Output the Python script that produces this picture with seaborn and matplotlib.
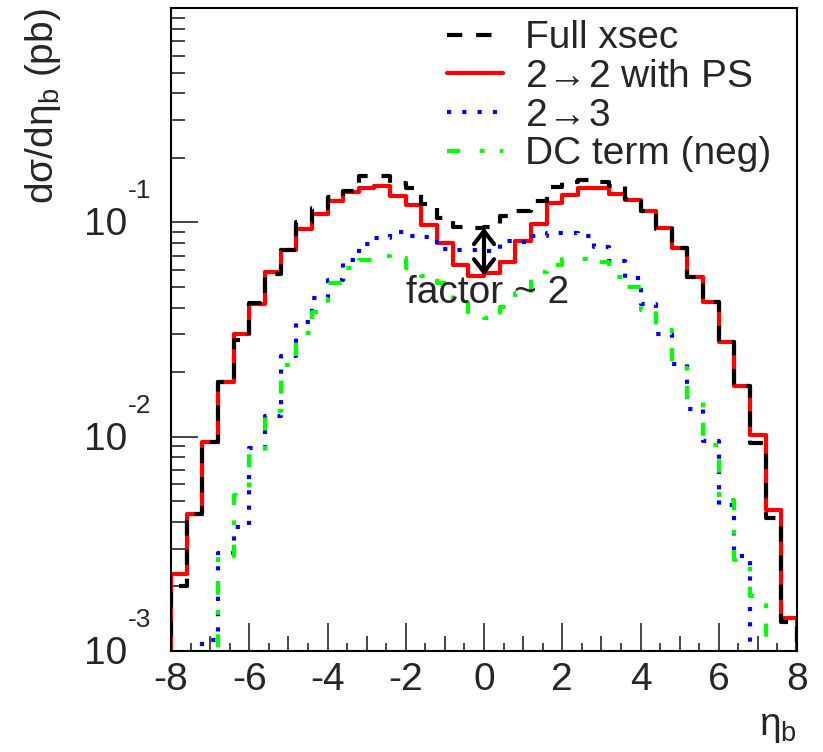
import numpy as np
import pandas as pd
import matplotlib
matplotlib.use('Agg')
import matplotlib.pyplot as plt
import matplotlib.transforms as mtransforms
from matplotlib.ticker import FixedLocator, FixedFormatter, LogLocator, NullFormatter
import seaborn as sns

# bin edges in eta_b (40 bins of 0.4)
eta_edges = [-8.0, -7.6, -7.2, -6.8, -6.4, -6.0, -5.6, -5.2, -4.8, -4.4,
             -4.0, -3.6, -3.2, -2.8, -2.4, -2.0, -1.6, -1.2, -0.8, -0.4,
             0.0, 0.4, 0.8, 1.2, 1.6, 2.0, 2.4, 2.8, 3.2, 3.6,
             4.0, 4.4, 4.8, 5.2, 5.6, 6.0, 6.4, 6.8, 7.2, 7.6, 8.0]

# bin contents (pb)
full_xsec = [0.00201, 0.00438, 0.00948, 0.0179, 0.0283, 0.0420, 0.0576, 0.0745, 0.1004, 0.1168,
             0.1314, 0.1396, 0.164, 0.1652, 0.1528, 0.1448, 0.1223, 0.1052, 0.0950, 0.0944,
             0.0955, 0.1067, 0.1134, 0.1263, 0.1457, 0.1549, 0.1583, 0.1538, 0.1473, 0.129,
             0.1134, 0.0935, 0.0759, 0.0557, 0.0427, 0.0277, 0.01725, 0.00931, 0.00416, 0.00136]
two_to_two = [0.00228, 0.00438, 0.00948, 0.0179, 0.0301, 0.0416, 0.0584, 0.0745, 0.0935, 0.1098,
              0.1253, 0.1387, 0.1448, 0.1473, 0.1323, 0.120, 0.0976, 0.0801, 0.0634, 0.0564,
              0.0580, 0.0655, 0.0817, 0.0986, 0.1233, 0.1347, 0.1448, 0.1448, 0.1362, 0.127,
              0.113, 0.0937, 0.0759, 0.0557, 0.0427, 0.0277, 0.01725, 0.0102, 0.00455, 0.00143]
two_to_three = [0, 0, 0.00112, 0.00286, 0.00379, 0.00886, 0.0125, 0.0238, 0.0344, 0.0445,
                0.054, 0.0669, 0.0795, 0.0848, 0.0905, 0.0867, 0.0858, 0.0754, 0.0745, 0.0745,
                0.0738, 0.0821, 0.0813, 0.0867, 0.0895, 0.0895, 0.0867, 0.077, 0.0662, 0.0552,
                0.0417, 0.0302, 0.0219, 0.0135, 0.00955, 0.0048, 0.00277, 0, 0, 0]
dc_term = [0, 0, 0, 0.00277, 0.00534, 0.00857, 0.0132, 0.0216, 0.0305, 0.0383,
           0.0523, 0.0614, 0.0669, 0.0694, 0.0684, 0.0614, 0.0564, 0.0523, 0.0422, 0.0375,
           0.0359, 0.0404, 0.0469, 0.0588, 0.0634, 0.0677, 0.0677, 0.0655, 0.0558, 0.0501,
           0.0391, 0.0315, 0.0209, 0.0145, 0.00914, 0.00506, 0.00265, 0.0018, 0, 0]

series_names = ['Full xsec', '2$\\!\\rightarrow\\!$2 with PS', '2$\\!\\rightarrow\\!$3',
                'DC term (neg)']
x_ticks = [-8, -7, -6, -5, -4, -3, -2, -1, 0, 1, 2, 3, 4, 5, 6, 7, 8]
y_decades = [1e-3, 1e-2, 1e-1]

sns.set_style('white')
plt.rcParams['font.family'] = ['Liberation Sans', 'DejaVu Sans']
plt.rcParams['mathtext.fontset'] = 'custom'
plt.rcParams['mathtext.rm'] = 'Liberation Sans'
plt.rcParams['mathtext.it'] = 'Liberation Sans'
plt.rcParams['mathtext.default'] = 'regular'
plt.rcParams['lines.scale_dashes'] = False

FS = 28

fig, ax = plt.subplots(figsize=(8.23, 7.52), dpi=100)
fig.subplots_adjust(left=171/823, right=797/823, bottom=1-651/752, top=1-8/752)


def step_frame(values):
    # histogram outline: rise from 0 at the first edge, fall back at the last
    xs = [eta_edges[0]] + list(eta_edges)
    ys = [0.0] + list(values) + [0.0]
    return pd.DataFrame({'eta': xs, 'val': ys})


styles = [
    (two_to_two, series_names[1], 'red', '-'),
    (two_to_three, series_names[2], 'blue', (0, (3, 8))),
    (dc_term, series_names[3], '#00ff00', (0, (9.5, 14, 3.5, 11))),
    (full_xsec, series_names[0], 'black', (0, (11, 10))),
]
for vals, name, col, ls in styles:
    sns.lineplot(data=step_frame(vals), x='eta', y='val', estimator=None, sort=False,
                 drawstyle='steps-post', color=col, linestyle=ls, lw=3, label=name, ax=ax)

ax.set_yscale('log')
ax.set_xlim(eta_edges[0], eta_edges[-1])
ax.set_ylim(1e-3, 1.0)

# arrow showing the gap between full and 2->2 at eta = 0
i0 = eta_edges.index(0.0) - 1
ax.annotate('', xy=(0, two_to_two[i0]), xytext=(0, full_xsec[i0]),
            arrowprops=dict(arrowstyle='<->, head_length=0.26, head_width=0.2', lw=3,
                            color='black', mutation_scale=36, shrinkA=0, shrinkB=0))
ax.text(0.505, 0.557, 'factor ~ 2', transform=ax.transAxes, ha='center', va='center',
        fontsize=FS)

# x ticks: long at even, medium at odd, short at halves
ax.xaxis.set_major_locator(FixedLocator(x_ticks))
ax.xaxis.set_major_formatter(FixedFormatter([str(t) if t % 2 == 0 else '' for t in x_ticks]))
ax.xaxis.set_minor_locator(FixedLocator([t + 0.5 for t in x_ticks[:-1]]))
ax.tick_params(axis='x', which='major', direction='in', length=20, width=1.2,
               top=False, bottom=True, labelsize=FS, pad=8)
ax.tick_params(axis='x', which='minor', direction='in', length=5.5, width=1.2,
               top=False, bottom=True)
for t, v in zip(ax.xaxis.get_major_ticks(), x_ticks):
    if v % 2:
        t.tick1line.set_markersize(11)

ax.yaxis.set_major_locator(FixedLocator(y_decades))
ax.yaxis.set_minor_locator(LogLocator(base=10, subs=np.arange(2, 10)))
ax.yaxis.set_minor_formatter(NullFormatter())
ax.tick_params(axis='y', which='major', direction='in', length=19.5, width=1.2,
               left=True, right=False, labelleft=False)
ax.tick_params(axis='y', which='minor', direction='in', length=10, width=1.2,
               left=True, right=False)

# ROOT-like "10^-n" labels
blend = mtransforms.blended_transform_factory(ax.transAxes, ax.transData)
for d in y_decades:
    ax.annotate('10', xy=(0, d), xycoords=blend, xytext=(-44 * 0.72, -13 * 0.72),
                textcoords='offset points', ha='right', va='baseline', fontsize=FS)
    ax.annotate(str(int(round(np.log10(d)))), xy=(0, d), xycoords=blend,
                xytext=(-43 * 0.72, 24 * 0.72), textcoords='offset points',
                ha='left', va='baseline', fontsize=19)

for s in ax.spines.values():
    s.set_visible(True)
    s.set_color('black')
    s.set_linewidth(1.5)

ax.set_xlabel('η$_{b}$', fontsize=FS, loc='right')
ax.xaxis.set_label_coords(1.0, -0.09)
ax.set_ylabel('dσ/dη$_{b}$ (pb)', fontsize=FS, loc='top')
ax.yaxis.set_label_coords(-0.1725, 1.0)

handles, labels = ax.get_legend_handles_labels()
order = [labels.index(n) for n in series_names]
leg = ax.legend([handles[k] for k in order], series_names, loc='upper left',
                bbox_to_anchor=(0.441, 0.981), frameon=False, fontsize=FS, borderpad=0,
                borderaxespad=0, handlelength=1.45, handletextpad=0.55, labelspacing=0.07)
for txt in leg.get_texts():
    txt.set_math_fontfamily('dejavusans')

fig.savefig('out.png', dpi=100)
